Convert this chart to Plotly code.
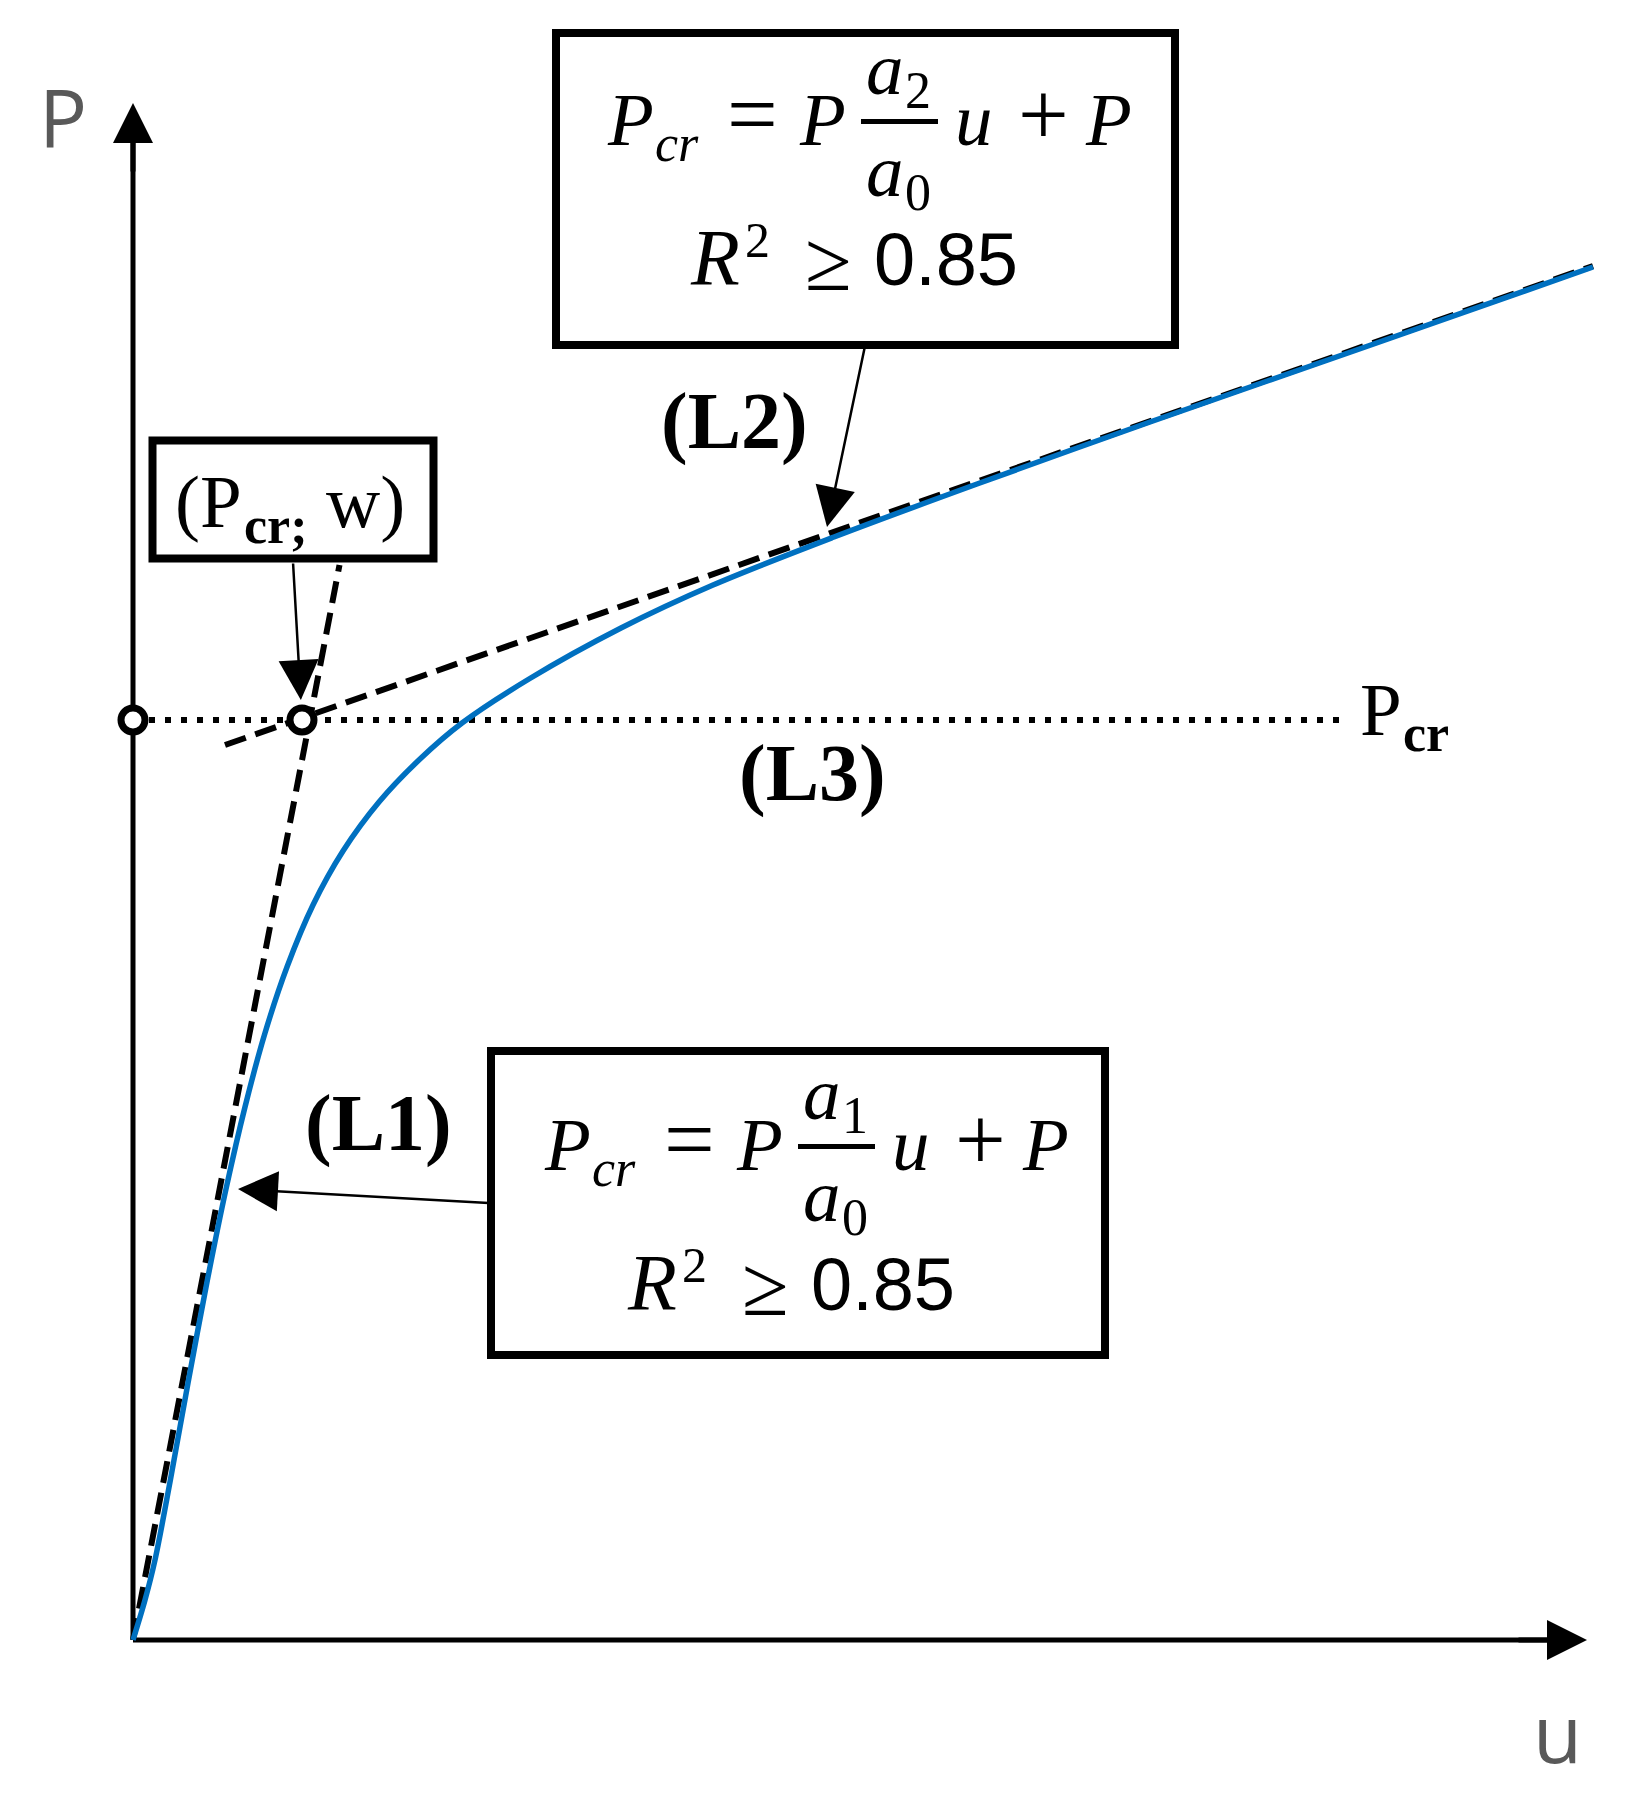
import plotly.graph_objects as go

W, H = 1628, 1803
PAGE = 8                          # default body margin of the html page
FIG_W, FIG_H = W - 2 * PAGE, H - 2 * PAGE
ORIGIN_X, ORIGIN_Y = 133, 1640   # page pixel of u=0, P=0
PX = 10.0                         # pixels per unit on both axes

U_END = 145.4   # tip of the u axis
P_END = 153.7   # tip of the P axis

# load-displacement curve (u, P)
curve_u = [0, 1.2, 2.2, 3.7, 5.5, 7.4, 9.3, 11.2, 13.2, 15.4, 18.0, 21.0, 24.6,
           28.7, 32.9, 39.6, 48.8, 58.0, 70.1, 84.4, 101.7, 123.5, 146.0]
curve_p = [0, 4.0, 8.0, 15.8, 25.7, 35.8, 45.1, 53.3, 60.7, 67.3, 73.5, 78.9, 83.8,
           88.1, 91.7, 96.1, 101.2, 105.5, 110.3, 115.6, 121.8, 129.4, 137.3]

# tangent lines
l1_u = [0.0, 20.65]
l1_p = [0.0, 107.5]
l2_u = [9.2, 146.0]
l2_p = [89.5, 137.4]

# critical load and its intersection point
P_CR = 92.0
W_CR = 16.9
pcr_u = [0.0, 121.4]
pcr_p = [P_CR, P_CR]
marker_u = [0.0, W_CR]
marker_p = [P_CR, P_CR]

# points the call-out arrows aim at
L1_TARGET = (10.5, 45.1)
L2_TARGET = (69.4, 111.3)

BLUE = "#0070C0"
GREY = "#595959"
SERIF = "Liberation Serif"
SANS = "Open Sans"
ASCENT = {SERIF: 0.891, "Liberation Sans": 0.905, SANS: 1.069}


def u_of(x):
    return (x - ORIGIN_X) / PX


def p_of(y):
    return (ORIGIN_Y - y) / PX


annotations = []
shapes = []


def label(text, x, base, size, anchor="left", family=SERIF, color="black"):
    # place text so that its baseline sits at page pixel `base`
    top = base - ASCENT[family] * size
    annotations.append(dict(
        text=text, x=u_of(x), y=p_of(top), xref="x", yref="y",
        xanchor=anchor, yanchor="top", showarrow=False, borderpad=0, borderwidth=0,
        font=dict(family=family, size=size, color=color),
    ))


def arrow(tip, tail, width, size, standoff=0):
    annotations.append(dict(
        text="", x=tip[0], y=tip[1], ax=tail[0], ay=tail[1],
        xref="x", yref="y", axref="x", ayref="y",
        showarrow=True, arrowhead=2, arrowsize=size, arrowwidth=width,
        arrowcolor="black", standoff=standoff,
    ))


def box(x0, y0, x1, y1, width):
    shapes.append(dict(type="rect", xref="x", yref="y",
                       x0=u_of(x0), x1=u_of(x1), y0=p_of(y0), y1=p_of(y1),
                       line=dict(color="black", width=width), fillcolor="white", layer="below"))


def equation(num_sub, dx, dy):
    pieces = [
        ("<i>P</i>", 607, "left", 145, 75, SERIF),
        ("<i>cr</i>", 655, "left", 161, 52, SERIF),
        ("=", 752, "center", 145, 90, SERIF),
        ("<i>P</i>", 799, "left", 145, 75, SERIF),
        ("<i>a</i>", 866, "left", 94, 75, SERIF),
        (num_sub, 905, "left", 108, 52, SERIF),
        ("<i>a</i>", 866, "left", 196, 75, SERIF),
        ("0", 905, "left", 210, 52, SERIF),
        ("<i>u</i>", 955, "left", 145, 75, SERIF),
        ("+", 1043, "center", 145, 90, SERIF),
        ("<i>P</i>", 1085, "left", 145, 75, SERIF),
        ("<i>R</i>", 690, "left", 285, 80, SERIF),
        ("2", 745, "left", 257, 50, SERIF),
        ("\u2265", 828, "center", 290, 85, SERIF),
        ("0.85", 874, "left", 285, 74, "Liberation Sans"),
    ]
    for text, x, anchor, base, size, fam in pieces:
        label(text, x + dx, base + dy, size, anchor, fam)
    # fraction bar
    shapes.append(dict(type="line", xref="x", yref="y",
                       x0=u_of(861 + dx), x1=u_of(938 + dx), y0=p_of(121.5 + dy), y1=p_of(121.5 + dy),
                       line=dict(color="black", width=5)))


fig = go.Figure()

# axes
fig.add_trace(go.Scatter(x=[0, 0], y=[0, P_END - 3], mode="lines", line=dict(color="black", width=5)))
fig.add_trace(go.Scatter(x=[0, U_END - 3], y=[0, 0], mode="lines", line=dict(color="black", width=5)))

# P_cr level
fig.add_trace(go.Scatter(x=pcr_u, y=pcr_p, mode="lines",
                         line=dict(color="black", width=6, dash="6px,10px")))
# tangents
fig.add_trace(go.Scatter(x=l1_u, y=l1_p, mode="lines",
                         line=dict(color="black", width=6, dash="22px,10px")))
fig.add_trace(go.Scatter(x=l2_u, y=l2_p, mode="lines",
                         line=dict(color="black", width=6, dash="22px,10px")))
# curve
fig.add_trace(go.Scatter(x=curve_u, y=curve_p, mode="lines",
                         line=dict(color=BLUE, width=5.5, shape="spline", smoothing=0.9)))
# open circles
fig.add_trace(go.Scatter(x=marker_u, y=marker_p, mode="markers",
                         marker=dict(size=24, color="white", line=dict(color="black", width=7))))

# axis arrowheads
arrow((0, P_END), (0, P_END - 7), 5, 1.6)
arrow((U_END, 0), (U_END - 7, 0), 5, 1.6)

# boxes
box(556, 33, 1175, 345, 8)
box(491, 1051, 1105, 1355, 8)
box(152.5, 440.5, 433.5, 558.5, 8)

equation("2", 0, 0)
equation("1", -63, 1025)

# (P_cr; w)
label("(P", 175, 527, 75)
label("<b>cr;</b>", 244, 543, 52)
label("w)", 326, 527, 75)

# P_cr at the end of the dotted line
label("P", 1360, 735, 75)
label("<b>cr</b>", 1403, 751, 52)

# line labels
label("<b>(L2)</b>", 734.5, 448, 80, anchor="center")
label("<b>(L1)</b>", 378.5, 1150, 80, anchor="center")
label("<b>(L3)</b>", 812, 800, 80, anchor="center")

# axis titles
label("P", 62.5, 148, 80, anchor="center", family=SANS, color=GREY)
label("u", 1557, 1763, 80, anchor="center", family=SANS, color=GREY)

# call-out arrows
arrow(L1_TARGET, (u_of(490), p_of(1203)), 2.5, 3.2)
arrow(L2_TARGET, (u_of(865), p_of(346)), 2.5, 3.2)
arrow((W_CR, P_CR), (u_of(293), p_of(562)), 2.5, 3.2, standoff=20)

fig.update_layout(
    width=FIG_W, height=FIG_H,
    margin=dict(l=0, r=0, t=0, b=0, pad=0),
    paper_bgcolor="white", plot_bgcolor="white",
    showlegend=False,
    xaxis=dict(range=[u_of(PAGE), u_of(PAGE + FIG_W)], visible=False, fixedrange=True),
    yaxis=dict(range=[p_of(PAGE + FIG_H), p_of(PAGE)], visible=False, fixedrange=True),
    annotations=annotations,
    shapes=shapes,
)

fig.write_html("out.html")
